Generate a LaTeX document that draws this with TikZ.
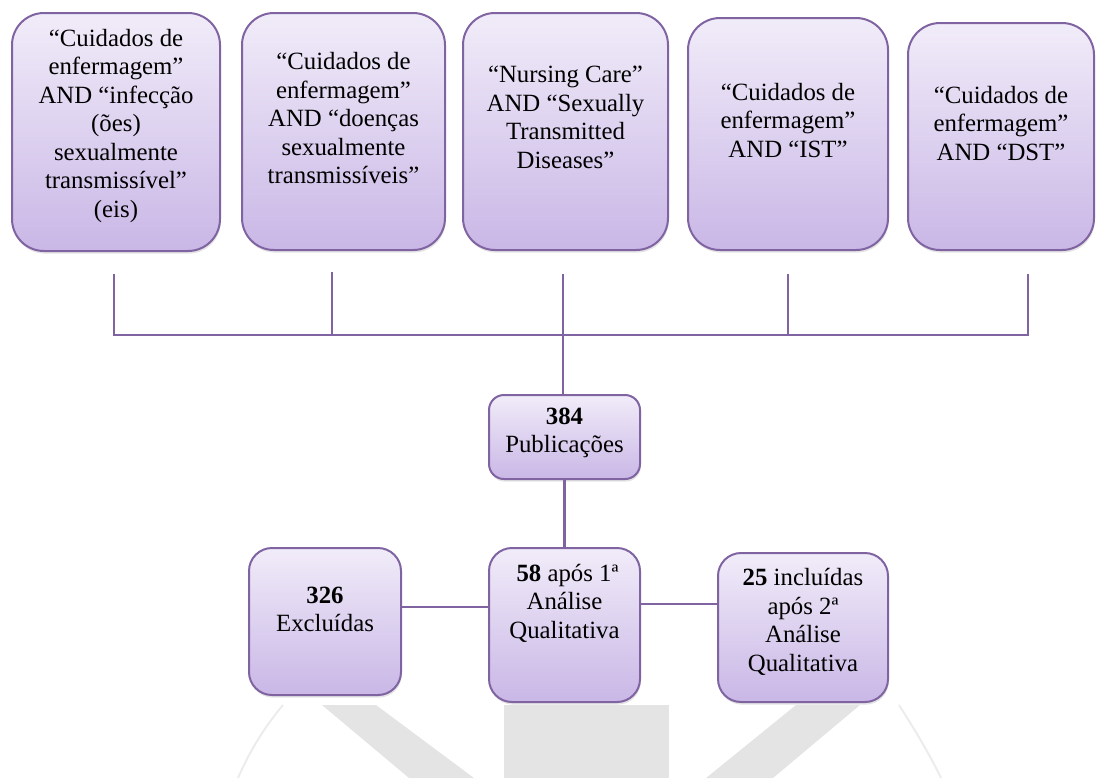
\documentclass[tikz,border=0pt]{standalone}
\usepackage{fontspec}
\setmainfont{Liberation Serif}
\usepackage{tikz}
\usetikzlibrary{positioning,calc,shadows}

\definecolor{boxline}{RGB}{128,100,162}
\definecolor{boxtop}{RGB}{241,236,249}
\definecolor{boxbot}{RGB}{201,183,230}
\definecolor{wmark}{RGB}{228,228,228}
\definecolor{wfaint}{RGB}{236,236,236}

\begin{document}
\begin{tikzpicture}[
  x=0.5pt, y=-0.5pt,
  box/.style={draw=boxline, line width=1pt, rounded corners=#1,
    top color=boxtop, bottom color=boxbot, align=center, inner sep=2pt,
    font=\fontsize{12.4pt}{14.25pt}\selectfont,
    drop shadow={opacity=0.22, shadow xshift=0.4pt, shadow yshift=-1.3pt}},
  box/.default=16pt,
  link/.style={draw=boxline, line width=1.4pt},
  wm/.style={fill=wmark, draw=none},
  wmarc/.style={draw=wfaint, line width=1pt}
]
\useasboundingbox (0,0) rectangle (1096,778);

\fill[wm] (322,705) -- (376,705) -- (474,778) -- (409,778) -- cycle;
\fill[wm] (504,705) rectangle (669,778);
\fill[wm] (796,705) -- (860,705) -- (773,778) -- (706,778) -- cycle;
\draw[wmarc] (283,705) .. controls (262,730) and (248,755) .. (238,778);
\draw[wmarc] (899,705) .. controls (915,730) and (930,755) .. (941,778);

\node[box, minimum width=104pt, minimum height=119pt, text depth=9pt] (q1) at (116,132)
  {“Cuidados de\\enfermagem”\\AND “infecção\\(ões)\\sexualmente\\transmissível”\\(eis)};
\node[box, minimum width=101.5pt, minimum height=118.5pt, text depth=13.5pt] (q2) at (343.5,131.5)
  {“Cuidados de\\enfermagem”\\AND “doenças\\sexualmente\\transmissíveis”};
\node[box, minimum width=102.5pt, minimum height=118.5pt, text depth=14.5pt] (q3) at (565.5,131.5)
  {“Nursing Care”\\AND “Sexually\\Transmitted\\Diseases”};
\node[box, minimum width=100pt, minimum height=116pt, text depth=14pt] (q4) at (788,134)
  {“Cuidados de\\enfermagem”\\AND “IST”};
\node[box, minimum width=93pt, minimum height=113.5pt, text depth=13.5pt] (q5) at (1001,136.5)
  {“Cuidados de\\enfermagem”\\AND “DST”};

\coordinate (t1) at (114,274);
\coordinate (t2) at (332,272);
\coordinate (t3) at (563,274);
\coordinate (t4) at (788,274);
\coordinate (t5) at (1028,274);
\coordinate (b1) at (114,335);
\coordinate (b2) at (332,335);
\coordinate (b4) at (788,335);
\coordinate (b5) at (1028,335);

\node[box=7.5pt, minimum width=75.5pt, minimum height=42pt, text depth=7pt] (pub) at (564.5,437)
  {\textbf{384}\\Publicações};
\node[box=11.5pt, minimum width=76pt, minimum height=73.5pt, text depth=12pt] (excl) at (325,621.5)
  {\textbf{326}\\Excluídas};
\node[box=11.5pt, minimum width=75.5pt, minimum height=77pt, text depth=24pt] (mid) at (564.5,625)
  {\hspace*{3pt}\textbf{58} após 1ª\\Análise\\Qualitativa};
\node[box=11.5pt, minimum width=85pt, minimum height=74.5pt, text depth=7.5pt] (incl) at (803,627.5)
  {\textbf{25} incluídas\\após 2ª\\Análise\\Qualitativa};

\coordinate (l1) at (0,607);
\coordinate (l2) at (0,604);

\draw[link] (t1) |- (b5) -- (t5);
\draw[link] (t2) -- (b2);
\draw[link] (t4) -- (b4);
\draw[link] (t3) -- (t3 |- pub.north);
\draw[link] (pub.south) -- (mid.north);
\draw[link] (excl.east |- l1) -- (mid.west |- l1);
\draw[link] (mid.east |- l2) -- (incl.west |- l2);
\end{tikzpicture}
\end{document}
